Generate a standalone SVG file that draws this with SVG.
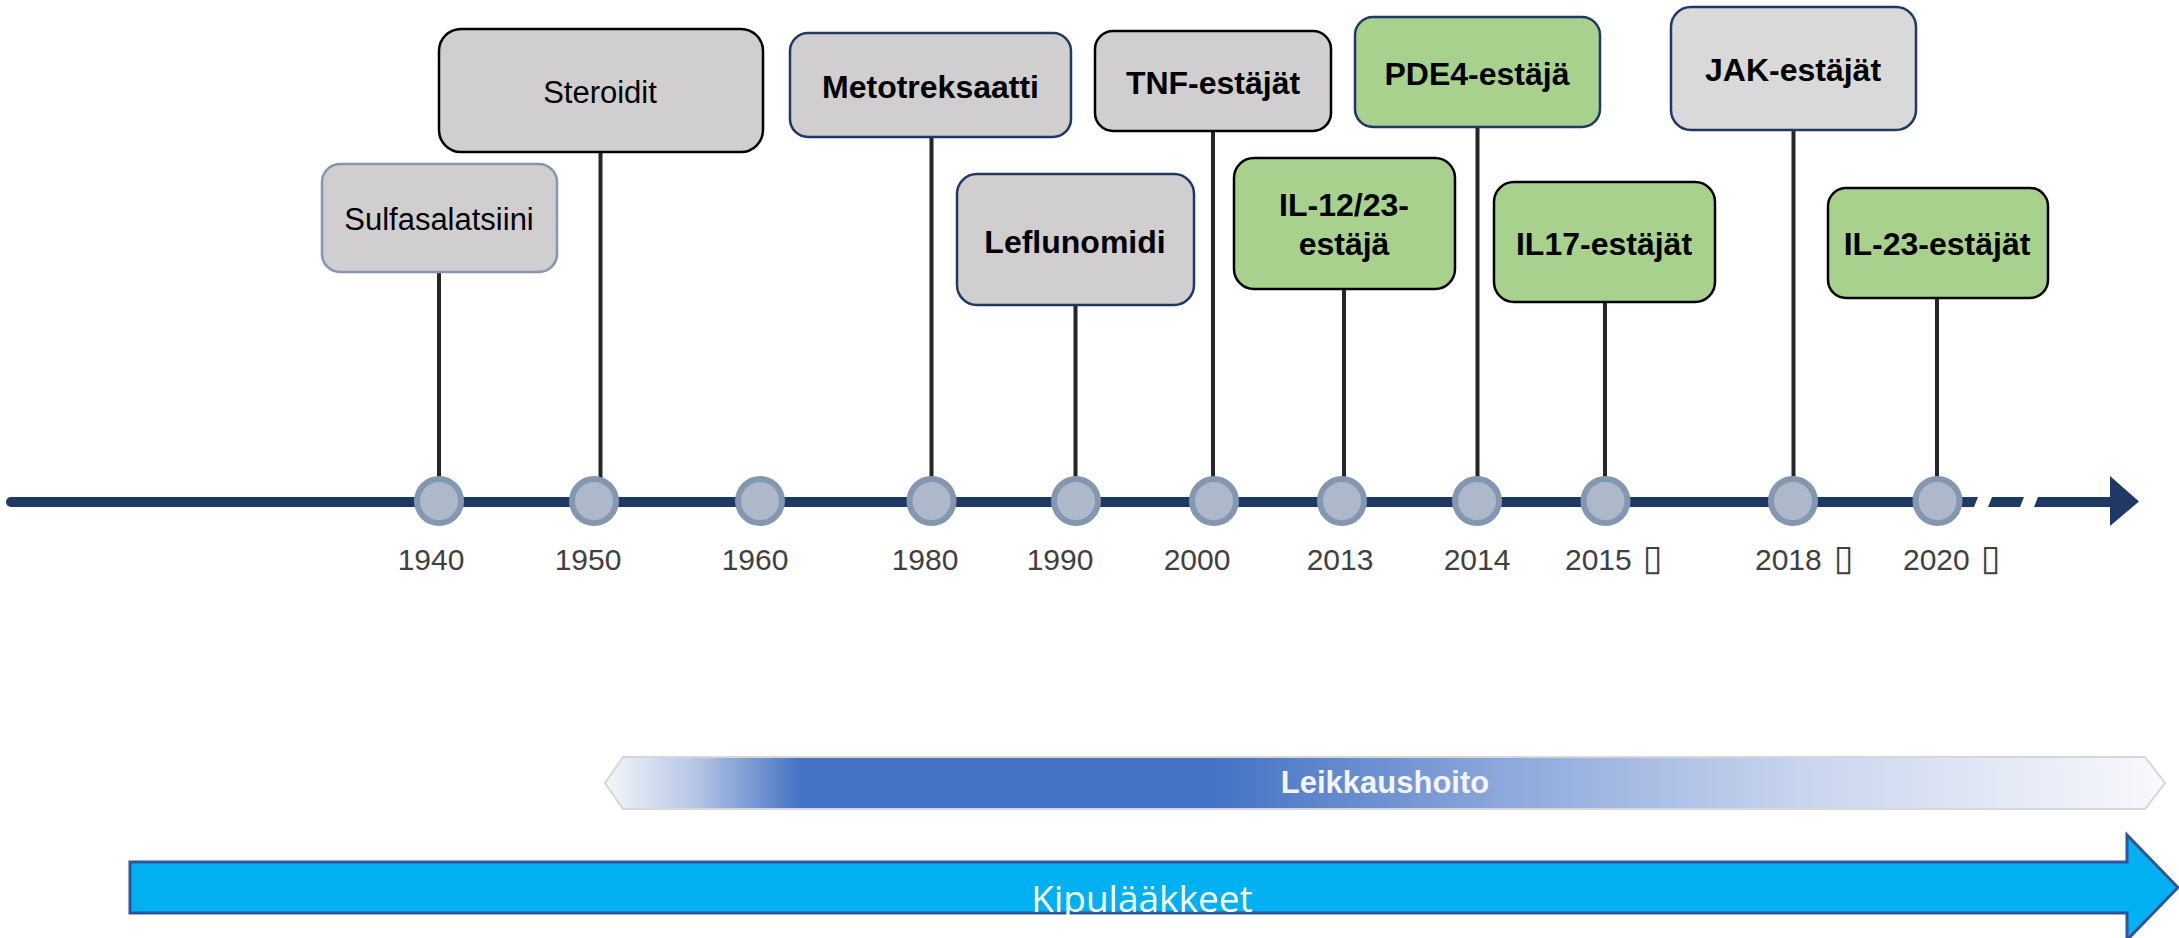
<svg xmlns="http://www.w3.org/2000/svg" width="2179" height="938" viewBox="0 0 2179 938">
<defs>
<style>
.box{stroke-width:2.5}
.gray{fill:#d0cece}
.green{fill:#a9d18e}
.bk{stroke:#000}
.nv{stroke:#1f3864}
.lbl{font-family:"Liberation Sans",Arial,sans-serif;font-size:32px;font-weight:bold;fill:#000;text-anchor:middle}
.lblr{font-family:"Liberation Sans",Arial,sans-serif;font-size:31px;fill:#000;text-anchor:middle}
.yr{font-family:"Liberation Sans",Arial,sans-serif;font-size:30px;fill:#404040}
.tofu{font-family:"DejaVu Sans",sans-serif;font-size:36px}
.stem{stroke:#262626;stroke-width:4;fill:none}
.node{fill:#adb9ca;stroke:#8497b0;stroke-width:6}
</style>
<linearGradient id="lg" gradientUnits="userSpaceOnUse" x1="605" y1="0" x2="2165" y2="0">
<stop offset="0" stop-color="#f4f6fb"/>
<stop offset="0.06" stop-color="#b4c4e4"/>
<stop offset="0.125" stop-color="#4472c4"/>
<stop offset="0.39" stop-color="#4472c4"/>
<stop offset="0.58" stop-color="#8ea9dc"/>
<stop offset="0.77" stop-color="#c9d5ee"/>
<stop offset="1" stop-color="#f8f9fc"/>
</linearGradient>
</defs>
<rect width="2179" height="938" fill="#fff"/>

<g id="bars">
<polygon points="605,783 623,757 2145,757 2165,783 2145,809 623,809" fill="url(#lg)" stroke="#d6d6d6" stroke-width="2"/>
<text x="1385" y="793" font-family="'Liberation Sans',Arial,sans-serif" font-size="31" font-weight="bold" fill="#f4f4f4" text-anchor="middle">Leikkaushoito</text>
<polygon points="130,862 2127,862 2127,835 2178,887.5 2127,940 2127,913 130,913" fill="#00b0f0" stroke="#2f5597" stroke-width="3"/>
<text x="1142" y="912" font-family="'Open Sans','Noto Sans',sans-serif" font-size="37" fill="#fff" text-anchor="middle">Kipulääkkeet</text>
</g>

<g id="connectors">
<line x1="11" y1="502" x2="1962" y2="502" stroke="#203864" stroke-width="10" stroke-linecap="round"/>
<polygon points="1955,497 1978,497 1974,507 1955,507" fill="#203864"/>
<polygon points="1992,497 2024,497 2020,507 1988,507" fill="#203864"/>
<polygon points="2038,497 2112,497 2112,507 2034,507" fill="#203864"/>
<polygon points="2110,476 2139,501.5 2110,526" fill="#203864"/>
<line class="stem" x1="439" y1="273" x2="439" y2="478"/>
<line class="stem" x1="600.5" y1="152" x2="600.5" y2="478"/>
<line class="stem" x1="931.5" y1="137" x2="931.5" y2="478"/>
<line class="stem" x1="1075.5" y1="305" x2="1075.5" y2="478"/>
<line class="stem" x1="1213" y1="131" x2="1213" y2="478"/>
<line class="stem" x1="1344" y1="289" x2="1344" y2="478"/>
<line class="stem" x1="1477.5" y1="127" x2="1477.5" y2="478"/>
<line class="stem" x1="1605" y1="302" x2="1605" y2="478"/>
<line class="stem" x1="1793.5" y1="130" x2="1793.5" y2="478"/>
<line class="stem" x1="1937" y1="298" x2="1937" y2="478"/>
</g>

<g id="nodes">
<circle class="node" cx="439" cy="501" r="22"/>
<circle class="node" cx="594" cy="501" r="22"/>
<circle class="node" cx="760" cy="501" r="22"/>
<circle class="node" cx="931.5" cy="501" r="22"/>
<circle class="node" cx="1076" cy="501" r="22"/>
<circle class="node" cx="1214" cy="501" r="22"/>
<circle class="node" cx="1342" cy="501" r="22"/>
<circle class="node" cx="1477" cy="501" r="22"/>
<circle class="node" cx="1605.5" cy="501" r="22"/>
<circle class="node" cx="1793" cy="501" r="22"/>
<circle class="node" cx="1937.5" cy="501" r="22"/>
</g>

<g id="years">
<text class="yr" x="431" y="570" text-anchor="middle">1940</text>
<text class="yr" x="588" y="570" text-anchor="middle">1950</text>
<text class="yr" x="755" y="570" text-anchor="middle">1960</text>
<text class="yr" x="925" y="570" text-anchor="middle">1980</text>
<text class="yr" x="1060" y="570" text-anchor="middle">1990</text>
<text class="yr" x="1197" y="570" text-anchor="middle">2000</text>
<text class="yr" x="1340" y="570" text-anchor="middle">2013</text>
<text class="yr" x="1477" y="570" text-anchor="middle">2014</text>
<text class="yr" x="1565" y="570">2015 <tspan class="tofu" x="1643">▯</tspan></text>
<text class="yr" x="1755" y="570">2018 <tspan class="tofu" x="1834">▯</tspan></text>
<text class="yr" x="1903" y="570">2020 <tspan class="tofu" x="1981">▯</tspan></text>
</g>

<g id="n-sulfasalatsiini">
<rect class="box gray" x="322" y="164" width="235" height="108" rx="18" stroke="#8497b0" stroke-width="3"/>
<text class="lblr" x="439" y="230">Sulfasalatsiini</text>
</g>
<g id="n-steroidit">
<rect class="box gray bk" x="439" y="29" width="324" height="123" rx="22"/>
<text class="lblr" x="600" y="103">Steroidit</text>
</g>
<g id="n-metotreksaatti">
<rect class="box gray nv" x="790" y="33" width="281" height="104" rx="18"/>
<text class="lbl" x="930.5" y="98">Metotreksaatti</text>
</g>
<g id="n-leflunomidi">
<rect class="box gray nv" x="957" y="174" width="237" height="131" rx="20"/>
<text class="lbl" x="1075" y="253">Leflunomidi</text>
</g>
<g id="n-tnf">
<rect class="box gray bk" x="1095" y="31" width="236" height="100" rx="18"/>
<text class="lbl" x="1213" y="94">TNF-estäjät</text>
</g>
<g id="n-il1223">
<rect class="box green bk" x="1234" y="158" width="221" height="131" rx="20"/>
<text class="lbl" x="1344" y="216">IL-12/23-</text>
<text class="lbl" x="1344" y="254.5">estäjä</text>
</g>
<g id="n-pde4">
<rect class="box green nv" x="1355" y="17" width="245" height="110" rx="18"/>
<text class="lbl" x="1477" y="85">PDE4-estäjä</text>
</g>
<g id="n-il17">
<rect class="box green bk" x="1494" y="182" width="221" height="120" rx="20"/>
<text class="lbl" x="1604" y="254.5">IL17-estäjät</text>
</g>
<g id="n-jak">
<rect class="box nv" fill="#d9d9d9" x="1671" y="7" width="245" height="123" rx="20"/>
<text class="lbl" x="1793" y="81">JAK-estäjät</text>
</g>
<g id="n-il23">
<rect class="box green bk" x="1828" y="188" width="220" height="110" rx="18"/>
<text class="lbl" x="1937" y="254.5">IL-23-estäjät</text>
</g>
</svg>
